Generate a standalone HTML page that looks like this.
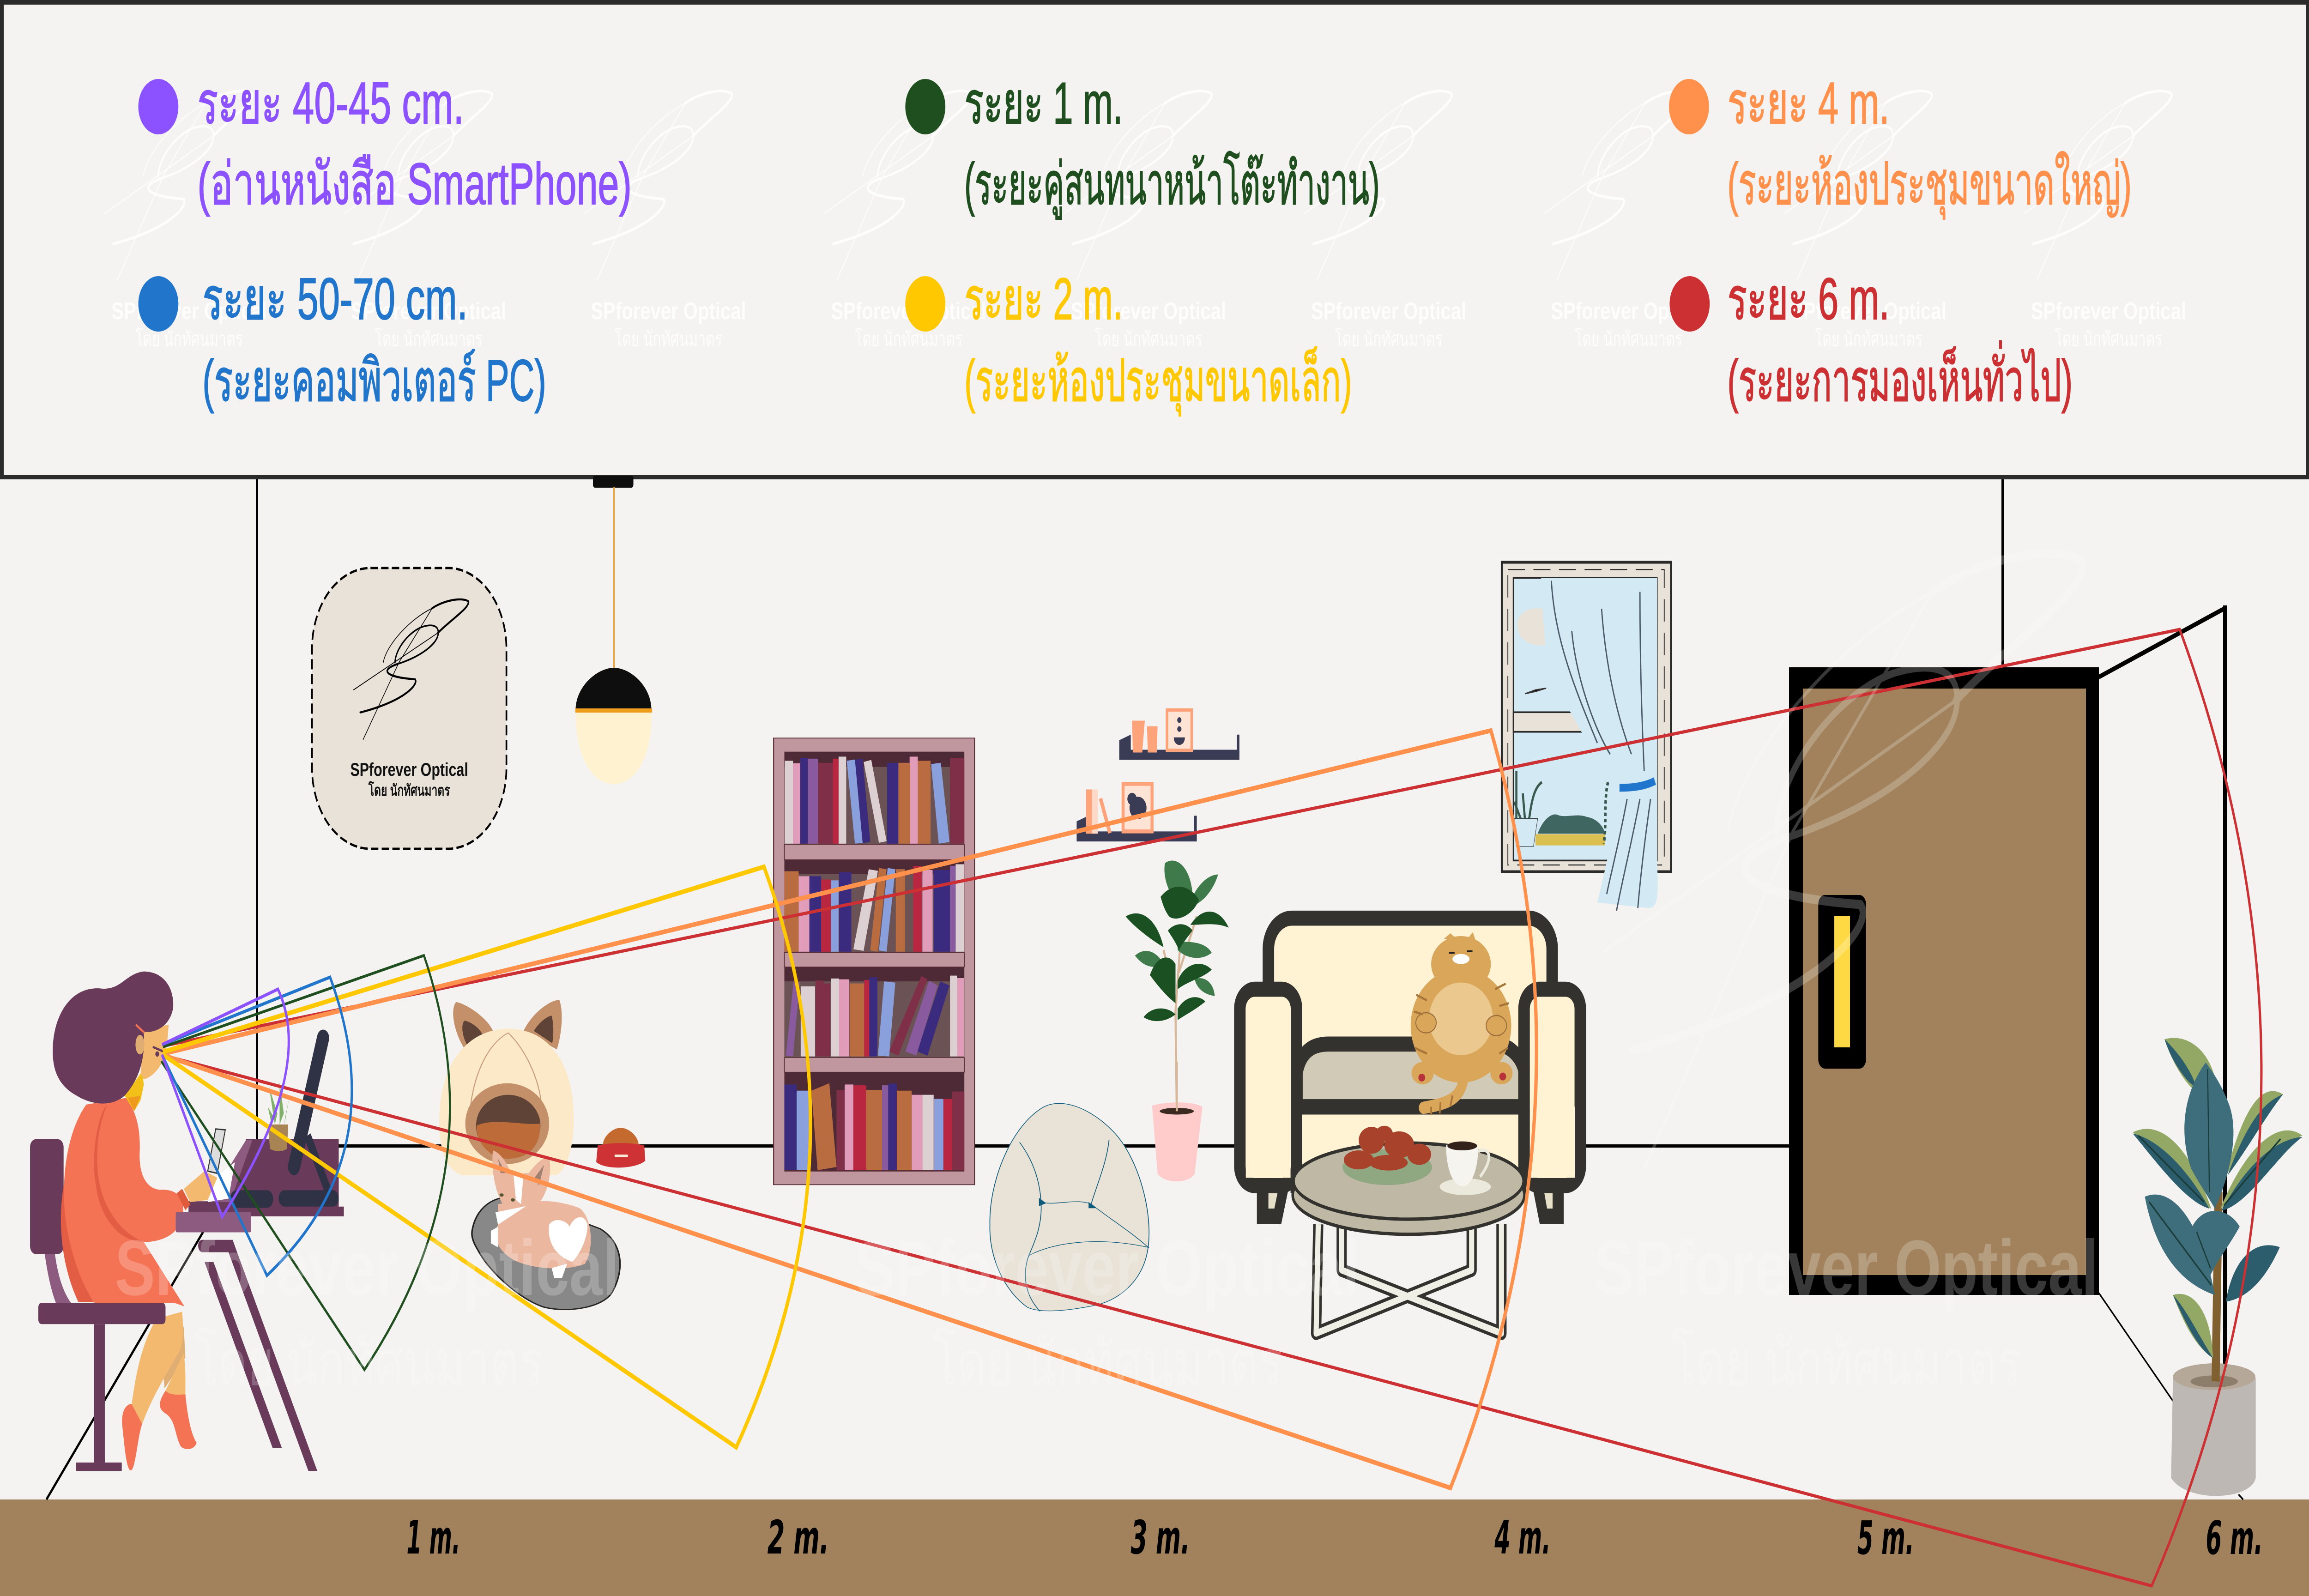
<!DOCTYPE html>
<html lang="th"><head><meta charset="utf-8"><title>ระยะการมองเห็น</title>
<style>html,body{margin:0;padding:0;background:#f4f3f1;width:100%;height:100%;overflow:hidden}
.s{position:absolute;will-change:transform;z-index:1}
svg{position:absolute;left:0;top:0;display:block;width:100vw;height:100vh;z-index:10;will-change:transform}
.l{font-family:"Liberation Sans","DejaVu Sans","Noto Sans CJK SC",sans-serif;font-size:127px}
.w{font-family:"Liberation Sans","DejaVu Sans","Noto Sans CJK SC",sans-serif;font-weight:bold}
.f{font-family:"DejaVu Sans","Liberation Sans",sans-serif;font-weight:bold;font-style:italic;font-size:100px;fill:#000}
</style></head><body>
<!-- solid colour layers -->
<div class="s" style="left:0;top:93.953%;width:100%;height:6.047%;background:#a1825c"></div>
<div class="s" style="left:11.089%;top:29.8%;width:.09%;height:42%;background:#000"></div>
<div class="s" style="left:86.67%;top:29.8%;width:.09%;height:12.2%;background:#000"></div>
<div class="s" style="left:11.05%;top:71.7%;width:66.5%;height:.2%;background:#000"></div>
<div class="s" style="left:96.28%;top:37.94%;width:.18%;height:48.9%;background:#000"></div>
<div class="s" style="left:77.474%;top:41.811%;width:13.426%;height:39.323%;background:#000"></div>
<div class="s" style="left:78.082%;top:43.142%;width:12.254%;height:36.748%;background:#a1825c"></div>
<div class="s" style="left:0;top:0;width:100%;height:.3%;background:#2b2b2b"></div>
<div class="s" style="left:0;top:29.75%;width:100%;height:.3%;background:#2b2b2b"></div>
<div class="s" style="left:0;top:0;width:.15%;height:30%;background:#2b2b2b"></div>
<div class="s" style="left:99.85%;top:0;width:.15%;height:30%;background:#2b2b2b"></div>
<svg xmlns="http://www.w3.org/2000/svg" viewBox="0 0 6912 3456" preserveAspectRatio="none">
<defs>
<g id="sig" fill="none" stroke-linecap="round">
<path stroke-width="2.5" d="M381,607L518,382L646,223M344,462L668,295M458,382C470,330 560,255 646,223"/>
<path stroke-width="6" d="M646,223C690,200 760,190 785,203C790,222 720,255 668,295"/>
<path stroke-width="5" d="M503,382C505,340 560,290 610,277C650,268 675,275 668,302C660,330 600,365 514,386"/>
<path stroke-width="6" d="M514,386C440,405 470,425 580,431C595,445 540,495 370,528"/>
</g>
</defs>
<g stroke="#000" fill="none">
<path stroke-width="6" d="M768,2470L139,3247"/>
<path stroke-width="10" d="M6283,1466L6658,1318"/>
<path stroke-width="4" d="M6283,2800L6505,3034M6701,3236L6715,3247"/>
</g>
<!-- floor labels -->
<text class="f" x="1217" y="3364" textLength="161" lengthAdjust="spacingAndGlyphs">1 m.</text>
<text class="f" x="2297" y="3364" textLength="185" lengthAdjust="spacingAndGlyphs">2 m.</text>
<text class="f" x="3385" y="3364" textLength="177" lengthAdjust="spacingAndGlyphs">3 m.</text>
<text class="f" x="4474" y="3364" textLength="168" lengthAdjust="spacingAndGlyphs">4 m.</text>
<text class="f" x="5560" y="3365" textLength="170" lengthAdjust="spacingAndGlyphs">5 m.</text>
<text class="f" x="6603" y="3365" textLength="171" lengthAdjust="spacingAndGlyphs">6 m.</text>
<!-- door handle -->
<rect x="5443" y="1938" width="143" height="376" rx="20" fill="#000"/>
<rect x="5491" y="1984" width="47" height="284" fill="#ffd944"/>
<!-- logo badge -->
<rect x="934" y="1230" width="582" height="608" rx="175" fill="#e8e2d8" stroke="#000" stroke-width="5" stroke-dasharray="22 10"/>
<use href="#sig" transform="translate(790,1152) scale(.78,.74)" stroke="#000"/>
<text class="w" x="1225" y="1680" text-anchor="middle" font-size="40" fill="#111" textLength="353" lengthAdjust="spacingAndGlyphs">SPforever Optical</text>
<text class="w" x="1225" y="1723" text-anchor="middle" font-size="34" fill="#111" font-weight="normal" textLength="244" lengthAdjust="spacingAndGlyphs">โดย นักทัศนมาตร</text>
<!-- lamp -->
<rect x="1775" y="1030" width="121" height="26" rx="6" fill="#0e0e0e"/>
<rect x="1836" y="1055" width="4" height="395" fill="#f09a1e"/>
<path d="M1723,1538C1723,1485 1790,1446 1838,1446C1886,1446 1950,1485 1950,1538Z" fill="#0e0e0e"/>
<path d="M1724,1540H1950C1955,1640 1900,1698 1838,1698C1775,1698 1720,1640 1724,1540Z" fill="#fff2d0"/>
<rect x="1722" y="1534" width="230" height="9" fill="#f09a1e"/>
<!-- z3 group: bookcase, cat house, dog, bowl, beanbag -->
<g transform="translate(1200,1500) scale(1.5306,.893)">
<rect x="729" y="110" width="393" height="1083" fill="#c1979f" stroke="#5a2d35" stroke-width="2"/>
<g fill="#4d2a36"><rect x="750" y="143" width="352" height="225"/><rect x="750" y="405" width="352" height="225"/><rect x="750" y="665" width="352" height="220"/><rect x="750" y="920" width="352" height="240"/></g>
<g fill="#6b5355"><rect x="750" y="180" width="352" height="188"/><rect x="750" y="440" width="352" height="190"/><rect x="750" y="700" width="352" height="185"/></g>
<g fill="#ddd0d3"><rect x="751" y="165" width="16" height="201"/><rect x="856" y="155" width="15" height="211"/><path d="M905,168L920,163L950,360L935,364Z"/><rect x="1085" y="416" width="16" height="212"/><path d="M915,428L933,432L905,626L885,622Z"/><rect x="782" y="712" width="28" height="170"/><rect x="841" y="693" width="16" height="189"/><rect x="1074" y="686" width="14" height="196"/><rect x="1020" y="975" width="22" height="183"/></g>
<g fill="#e09cb9"><rect x="767" y="171" width="14" height="195"/><rect x="995" y="155" width="16" height="211"/><rect x="778" y="445" width="21" height="183"/><rect x="1020" y="430" width="20" height="198"/><rect x="857" y="695" width="20" height="187"/><rect x="1088" y="692" width="13" height="190"/><rect x="868" y="950" width="17" height="208"/><rect x="999" y="975" width="21" height="183"/></g>
<g fill="#3a2b7f"><rect x="781" y="158" width="15" height="208"/><path d="M888,162L903,160L918,362L903,365Z"/><rect x="951" y="170" width="22" height="196"/><rect x="799" y="445" width="23" height="183"/><rect x="857" y="435" width="24" height="193"/><rect x="1042" y="430" width="32" height="198"/><rect x="916" y="690" width="16" height="192"/><path d="M1055,700L1073,710L1030,880L1010,870Z"/><rect x="750" y="950" width="24" height="208"/><rect x="953" y="948" width="17" height="210"/></g>
<g fill="#8a5a9f"><rect x="796" y="160" width="20" height="206"/><rect x="1074" y="420" width="11" height="208"/><path d="M768,700L780,703L767,882L753,880Z"/><path d="M1033,698L1050,710L1008,880L987,870Z"/><rect x="941" y="952" width="12" height="206"/></g>
<g fill="#7f3048"><rect x="816" y="170" width="29" height="196"/><rect x="1074" y="158" width="28" height="208"/><rect x="811" y="698" width="16" height="184"/><rect x="827" y="705" width="13" height="177"/><path d="M1018,687L1030,695L973,880L955,870Z"/><rect x="852" y="963" width="16" height="195"/><rect x="1078" y="967" width="24" height="191"/></g>
<g fill="#b9263f"><rect x="845" y="160" width="11" height="206"/><rect x="822" y="453" width="19" height="175"/><rect x="1002" y="420" width="17" height="208"/><rect x="906" y="697" width="10" height="185"/><rect x="885" y="952" width="25" height="206"/><rect x="1061" y="985" width="17" height="173"/></g>
<g fill="#8aa0dc"><path d="M872,165L888,162L903,364L888,366Z"/><path d="M1037,173L1056,170L1073,362L1052,366Z"/><rect x="841" y="455" width="15" height="173"/><path d="M952,425L967,428L950,628L935,625Z"/><path d="M945,700L967,703L955,882L933,880Z"/><rect x="774" y="965" width="24" height="193"/><rect x="1043" y="985" width="18" height="173"/></g>
<g fill="#b86c3f"><rect x="973" y="170" width="23" height="196"/><rect x="1011" y="165" width="25" height="201"/><rect x="750" y="433" width="28" height="195"/><path d="M935,425L950,428L933,628L918,625Z"/><rect x="968" y="428" width="18" height="200"/><rect x="878" y="705" width="28" height="177"/><path d="M803,965L838,947L852,1150L815,1158Z"/><rect x="910" y="963" width="31" height="195"/><rect x="970" y="965" width="29" height="193"/></g>
<g fill="#c1979f" stroke="#5a2d35" stroke-width="1.5"><rect x="750" y="368" width="352" height="37"/><rect x="750" y="630" width="352" height="35"/><rect x="750" y="885" width="352" height="35"/></g>
<rect x="750" y="1158" width="352" height="3" fill="#5a2d35"/>
<!-- cat house -->
<path d="M128,870C105,830 95,770 108,750C130,755 170,790 180,820Z" fill="#c4906a"/><path d="M130,855C118,830 118,800 125,795C140,800 155,815 160,830Z" fill="#5f4337"/>
<path d="M240,820C255,780 290,745 310,745C320,780 312,840 305,865Z" fill="#c4906a"/><path d="M260,820C270,800 285,785 295,783C300,810 298,840 296,850Z" fill="#5f4337"/>
<path d="M75,1040C75,900 130,815 210,815C290,815 340,900 338,1040C338,1110 320,1170 300,1170L120,1170C90,1160 75,1110 75,1040Z" fill="#fbe9c8"/>
<path d="M135,1020C140,930 170,850 210,825C240,860 270,930 275,1000" fill="none" stroke="#c99b7b" stroke-width="2"/>
<ellipse cx="208" cy="1045" rx="82" ry="98" fill="#c4906a"/><ellipse cx="210" cy="1050" rx="63" ry="75" fill="#5f4337"/>
<path d="M148,1050C180,1030 240,1050 272,1045C275,1110 240,1130 210,1130C180,1130 148,1100 148,1050Z" fill="#bd6b38"/>
<!-- rug + dog -->
<path d="M140,1300C150,1240 190,1215 230,1225L390,1300C430,1330 440,1390 415,1450C400,1490 330,1505 280,1490C230,1470 170,1400 150,1350C140,1330 137,1315 140,1300Z" fill="#888" stroke="#222" stroke-width="3"/>
<path d="M190,1240C240,1230 300,1225 350,1250C375,1275 378,1350 360,1385C330,1400 280,1400 240,1385C200,1370 175,1330 190,1290Z" fill="#ebb89f"/>
<path d="M180,1110C195,1115 210,1145 215,1165L250,1165C265,1140 280,1125 290,1125C295,1160 290,1200 275,1230C260,1245 230,1250 205,1250C190,1230 175,1170 180,1110Z" fill="#ebb89f"/>
<path d="M185,1260L245,1245L190,1290ZM220,1165L240,1165L235,1240L225,1230Z" fill="#fff"/>
<path d="M290,1290C300,1270 325,1280 330,1295C340,1265 360,1265 365,1290C365,1330 345,1370 335,1380C310,1370 285,1340 290,1290Z" fill="#fff"/>
<path d="M176,1305L190,1295V1345L176,1335ZM295,1395L325,1385L315,1420L300,1420Z" fill="#fff"/>
<path d="M190,1130L205,1165L195,1165ZM280,1145L270,1195L262,1175Z" fill="#a08070"/>
<circle cx="197" cy="1218" r="4" fill="#553"/><circle cx="219" cy="1230" r="4" fill="#553"/>
<!-- bowl -->
<path d="M395,1098C395,1075 415,1055 430,1055C445,1055 465,1075 465,1098Z" fill="#c46a2f"/>
<path d="M385,1098C410,1090 450,1090 476,1098L478,1135C460,1155 400,1158 382,1138Z" fill="#cf3235"/>
<rect x="418" y="1120" width="26" height="6" fill="#fbe9d8"/>
<!-- beanbag -->
<path d="M1250,1010C1290,975 1350,1010 1390,1060C1440,1120 1470,1250 1462,1340C1455,1420 1410,1470 1360,1485C1300,1500 1250,1505 1225,1490C1180,1450 1150,1370 1152,1290C1150,1190 1190,1060 1250,1010Z" fill="#e8e2d7" stroke="#0e5a7a" stroke-width="1.5"/>
<path d="M1210,1090C1240,1140 1250,1190 1252,1235C1280,1245 1320,1225 1350,1240C1365,1180 1380,1140 1385,1085M1252,1235C1255,1290 1240,1330 1228,1365C1280,1330 1370,1320 1462,1345C1420,1300 1380,1270 1350,1240M1228,1365C1215,1410 1220,1460 1250,1500" fill="none" stroke="#0e5a7a" stroke-width="1.5"/>
<path d="M1248,1225L1262,1238L1248,1245ZM1345,1235L1360,1250L1345,1250Z" fill="#0e5a7a"/>
</g>
<!-- z4 group: shelves, plant, window, sofa, cat, table -->
<g transform="translate(3200,1100) scale(1.2755,1.2117)">
<path d="M118,415L145,405V432H394V405H400V450H118ZM18,560L40,552V578H293V550H300V596H18Z" fill="#3a3b55"/>
<path d="M148,380H178L172,437H150ZM183,390H208L206,437H185ZM40,503H54V582H40ZM70,520L78,518L100,580L92,582Z" fill="#ffa37a"/>
<rect x="54" y="503" width="14" height="79" fill="#ffd9c8"/>
<rect x="230" y="361" width="58" height="72" fill="#ffe3d4" stroke="#ffa37a" stroke-width="6"/>
<rect x="127" y="493" width="68" height="85" fill="#ffe3d4" stroke="#ffa37a" stroke-width="7"/>
<g fill="#3a3b55"><circle cx="259" cy="379" r="5"/><circle cx="259" cy="395" r="5"/><path d="M246,410H272C272,428 246,428 246,410Z"/><circle cx="148" cy="520" r="11"/><circle cx="162" cy="536" r="20"/></g>
<!-- fig tree -->
<path d="M253,1078L250,900L262,770M250,880L222,790M258,830L300,730" fill="none" stroke="#d8b89b" stroke-width="5"/>
<g fill="#3f7a4a"><path d="M225,635C250,620 285,640 290,690L240,690C225,670 222,650 225,635Z"/><path d="M290,695C305,670 330,655 350,655C340,680 320,700 295,710Z"/><path d="M155,800C175,785 205,790 222,815C200,825 175,820 155,800Z"/><path d="M255,775C285,775 320,775 335,795C310,810 275,805 255,790Z"/><path d="M295,842C320,835 340,850 342,872C320,870 300,860 295,842Z"/></g>
<g fill="#1a5022"><path d="M215,695C240,670 280,670 305,700C290,730 250,740 235,730C225,720 220,708 215,695Z"/><path d="M133,730C165,715 205,730 222,785C190,770 155,750 133,730Z"/><path d="M285,745C310,715 350,710 375,750C345,740 315,745 285,745Z"/><path d="M232,755C250,740 275,740 290,755C275,770 265,780 258,790C250,775 240,765 232,755Z"/><path d="M190,835C205,800 235,795 250,815V885C225,870 205,850 190,835Z"/><path d="M255,845C270,815 310,805 335,825C315,840 280,845 255,860Z"/><path d="M175,910C195,890 230,890 250,905C225,920 195,920 175,910Z"/><path d="M255,895C275,870 305,870 320,882C300,895 275,905 255,915Z"/></g>
<path d="M195,1068C230,1060 290,1060 313,1070L295,1190C280,1208 225,1208 208,1190Z" fill="#ffcbcb"/>
<ellipse cx="253" cy="1078" rx="40" ry="6" fill="#3a2a20"/>
<path d="M253,1078V990" stroke="#d8b89b" stroke-width="5"/>
<!-- window -->
<rect x="1016" y="97" width="397" height="553" fill="#e8e2d8" stroke="#2a2a2a" stroke-width="5"/>
<rect x="1030" y="110" width="367" height="528" fill="none" stroke="#2a2a2a" stroke-width="2" stroke-dasharray="40 20"/>
<rect x="1043" y="125" width="337" height="505" fill="#d3e9f3" stroke="#2a2a2a" stroke-width="3"/>
<rect x="1043" y="365" width="337" height="35" fill="#e8e2d8" stroke="#2a2a2a" stroke-width="3"/>
<path d="M1112,180C1070,175 1050,195 1052,210C1055,240 1090,248 1118,245Z" fill="#e8e2d8"/>
<path d="M1070,332L1095,328L1120,322L1095,325Z" stroke="#333" stroke-width="2"/>
<path d="M1045,555H1100L1090,605H1050Z" fill="#d3e9f3" stroke="#333" stroke-width="1"/>
<path d="M1050,470V555M1065,510L1070,555M1110,490C1090,500 1085,530 1080,555M1045,525L1060,555" stroke="#3a5a50" stroke-width="5" fill="none"/>
<path d="M1100,582C1110,560 1130,545 1145,548C1165,555 1190,545 1215,552C1240,555 1255,570 1258,582Z" fill="#3f6660"/>
<rect x="1095" y="583" width="163" height="20" fill="#dbbf50"/>
<path d="M1108,125H1380V630C1385,700 1380,715 1360,715L1240,705C1260,640 1285,560 1295,510C1250,470 1190,380 1150,330C1120,270 1110,200 1108,125Z" fill="#d3e9f3"/>
<path d="M1132,130C1140,230 1180,310 1240,420M1180,220C1190,300 1230,390 1270,440M1250,180C1260,290 1290,380 1320,440M1340,150C1340,280 1345,390 1350,470M1310,520C1290,600 1270,660 1262,690M1340,520C1320,600 1300,660 1285,720M1365,520C1350,600 1340,670 1335,715" fill="none" stroke="#4a5a6a" stroke-width="3"/>
<path d="M1292,500C1320,500 1350,498 1375,488" stroke="#1f76cc" stroke-width="14" fill="none"/>
<path d="M1265,490C1255,520 1262,570 1255,600" stroke="#3a5a50" stroke-width="6" stroke-dasharray="6 5" fill="none"/>
<!-- sofa -->
<path d="M441,1210H517L498,1280H441ZM1087,1210H1161V1280H1105Z" fill="#33322e"/>
<path d="M468,1222H490L482,1252H468ZM1115,1222H1135V1252H1122Z" fill="#e6e0c8"/>
<rect x="468" y="733" width="666" height="300" rx="55" fill="#fff3d3" stroke="#33322e" stroke-width="27"/>
<rect x="520" y="1040" width="560" height="170" fill="#fff3d3"/>
<path d="M535,1070V1010C545,965 580,958 610,958H1000C1040,958 1068,990 1068,1010V1070Z" fill="#d0cab7" stroke="#33322e" stroke-width="27" stroke-linejoin="round"/>
<rect x="401" y="860" width="133" height="351" rx="35" fill="#fff3d3" stroke="#33322e" stroke-width="27"/>
<rect x="1068" y="860" width="132" height="351" rx="35" fill="#fff3d3" stroke="#33322e" stroke-width="27"/>
<rect x="520" y="1197" width="560" height="27" fill="#33322e"/>
<rect x="534" y="1070" width="534" height="14" fill="#33322e"/>
<rect x="415" y="1070" width="105" height="127" fill="#fff3d3"/><rect x="1082" y="1070" width="105" height="127" fill="#fff3d3"/>
<!-- cat -->
<path d="M925,1025C915,1060 880,1065 832,1072" fill="none" stroke="#d9a65a" stroke-width="22" stroke-linecap="round"/>
<path d="M880,770L895,760L910,770ZM935,770L948,758L955,775Z" fill="#d9a65a"/>
<ellipse cx="920" cy="925" rx="118" ry="102" fill="#d9a65a"/><ellipse cx="920" cy="815" rx="70" ry="50" fill="#d9a65a"/>
<ellipse cx="920" cy="913" rx="75" ry="65" fill="#ebc88e"/>
<ellipse cx="830" cy="1010" rx="26" ry="20" fill="#d9a65a"/><ellipse cx="1015" cy="1010" rx="26" ry="20" fill="#d9a65a"/>
<ellipse cx="838" cy="920" rx="24" ry="18" fill="#d9a65a" stroke="#9c6e3a" stroke-width="2"/><ellipse cx="1003" cy="925" rx="24" ry="18" fill="#d9a65a" stroke="#9c6e3a" stroke-width="2"/>
<ellipse cx="828" cy="1018" rx="8" ry="7" fill="#b8323a"/><ellipse cx="1018" cy="1016" rx="8" ry="7" fill="#b8323a"/>
<ellipse cx="920" cy="806" rx="20" ry="9" fill="#fff"/>
<path d="M892,795H905M934,792H947" stroke="#222" stroke-width="3"/>
<path d="M815,870L840,880M810,900L830,905M812,965L840,975M1000,860L1025,850M1010,890L1032,885M1010,975L1030,965M895,1070L900,1050M870,1082L872,1062M850,1085V1070" stroke="#a77638" stroke-width="4"/>
<!-- table -->
<path d="M585,1280L580,1475L945,1362V1285M1015,1280V1475L640,1362V1285" fill="none" stroke="#33322e" stroke-width="24" stroke-linejoin="round"/>
<path d="M585,1280L580,1475L945,1362V1285M1015,1280V1475L640,1362V1285" fill="none" stroke="#f0efe5" stroke-width="12" stroke-linejoin="round"/>
<ellipse cx="797" cy="1228" rx="272" ry="70" fill="#bfb8a4" stroke="#33322e" stroke-width="6"/>
<ellipse cx="797" cy="1203" rx="270" ry="68" fill="#bfb8a4" stroke="#33322e" stroke-width="6"/>
<ellipse cx="747" cy="1178" rx="105" ry="32" fill="#8fa882"/>
<g fill="#a9422b"><ellipse cx="710" cy="1130" rx="30" ry="24"/><ellipse cx="775" cy="1138" rx="35" ry="24"/><ellipse cx="740" cy="1118" rx="20" ry="14"/><ellipse cx="680" cy="1165" rx="35" ry="17"/><ellipse cx="750" cy="1170" rx="45" ry="14"/><ellipse cx="822" cy="1155" rx="28" ry="19"/></g>
<ellipse cx="930" cy="1213" rx="60" ry="15" fill="#ebe8dc"/>
<path d="M885,1138H960C962,1180 945,1212 925,1212C900,1212 885,1180 885,1138Z" fill="#f5f4ef"/>
<path d="M960,1150C985,1140 1000,1160 965,1195" fill="none" stroke="#eceadd" stroke-width="6"/>
<ellipse cx="923" cy="1140" rx="35" ry="8" fill="#33221a"/>
</g>
<!-- z5 rubber plant -->
<g transform="translate(5200,1200) scale(1.0918,1.4388)">
<path d="M1195,1240C1250,1210 1370,1210 1422,1240L1422,1390C1410,1425 1230,1428 1190,1390Z" fill="#bdb8b4"/>
<ellipse cx="1308" cy="1238" rx="113" ry="20" fill="#b5a898"/><ellipse cx="1308" cy="1245" rx="65" ry="9" fill="#8d7d6b"/>
<path d="M1312,1245L1320,960" stroke="#80602f" stroke-width="22"/>
<path d="M1172,730C1240,720 1300,750 1315,800L1250,805C1220,790 1190,760 1172,730Z" fill="#94a866"/>
<path d="M1172,730C1200,745 1240,770 1262,805L1240,795C1215,780 1190,760 1172,730Z" fill="#2c5d6c"/>
<path d="M1085,870C1160,850 1240,890 1300,985C1240,970 1150,900 1085,870Z" fill="#94a866"/>
<path d="M1085,872C1150,880 1230,920 1295,985C1230,975 1150,915 1085,872Z" fill="#2c5d6c"/>
<path d="M1497,813C1430,790 1380,850 1340,935C1400,890 1440,840 1497,813Z" fill="#94a866"/>
<path d="M1497,813C1440,825 1395,860 1345,935C1400,895 1450,845 1497,813Z" fill="#2c5d6c"/>
<path d="M1550,875C1490,850 1400,885 1325,985C1400,960 1480,890 1550,875Z" fill="#94a866"/>
<path d="M1550,877C1480,880 1400,915 1328,988C1400,980 1480,905 1550,877Z" fill="#2c5d6c"/>
<path d="M1285,765C1225,810 1210,870 1245,925C1270,950 1295,970 1310,985C1355,930 1375,870 1350,830C1330,800 1305,780 1285,765Z" fill="#3e6d7c"/>
<path d="M1118,967C1190,950 1270,1000 1310,1115C1230,1100 1150,1060 1118,967Z" fill="#3e6d7c"/>
<path d="M1488,1043C1420,1030 1360,1060 1340,1125C1400,1120 1450,1090 1488,1043Z" fill="#2c5d6c"/>
<path d="M1245,1015C1280,975 1350,985 1378,1012C1350,1040 1320,1060 1298,1085C1275,1060 1245,1040 1245,1015Z" fill="#3e6d7c"/>
<path d="M1195,1115C1250,1105 1300,1140 1305,1210C1250,1190 1220,1150 1195,1115Z" fill="#94a866"/>
<path d="M1195,1115C1225,1150 1260,1195 1305,1210C1260,1170 1230,1135 1195,1115Z" fill="#2c5d6c"/>
<path d="M1290,775L1295,960M1130,975L1300,1100M1260,1020L1298,1075M1100,875L1280,975M1490,880L1335,980" fill="none" stroke="#1a3d3a" stroke-width="3"/>
</g>
<!-- z2 person & desk -->
<g transform="translate(0,1950) scale(.9566,.9605)">
<path d="M140,797C150,850 165,890 175,907H222C195,880 180,840 172,797Z" fill="#8d5a80"/>
<rect x="94" y="538" width="105" height="259" rx="18" fill="#693a5a"/>
<path d="M200,640C180,720 190,820 245,905H295L230,800Z" fill="#e35d45"/>
<path d="M270,460C230,500 200,570 200,660C200,760 250,860 295,907H545L577,915L450,770C500,770 570,755 573,700C575,670 555,650 500,652C460,650 435,620 437,570C440,520 430,480 395,445Z" fill="#f57355"/>
<path d="M335,460C300,490 285,590 300,640C310,710 370,770 450,770C380,750 310,690 305,600C300,530 320,490 335,460Z" fill="#e35d45"/>
<!-- legs -->
<path d="M510,1060L575,960L580,1030L515,1100Z" fill="#e0ad72"/>
<path d="M518,1105L575,1020C582,1060 580,1090 580,1115C555,1118 530,1115 518,1105Z" fill="#f3ba6f"/>
<path d="M480,955C440,1010 425,1070 412,1135L445,1180C470,1130 510,1080 550,1030C570,1010 577,990 570,927L480,945Z" fill="#f3ba6f"/>
<path d="M412,1135L445,1180C430,1210 425,1280 410,1285C395,1285 390,1230 382,1180C380,1150 395,1135 412,1135Z" fill="#f57355"/>
<path d="M518,1105C530,1115 560,1115 580,1113C585,1150 595,1200 615,1222C610,1240 575,1240 565,1230C545,1200 550,1170 515,1155C495,1145 495,1130 518,1105Z" fill="#f57355"/>
<rect x="120" y="907" width="398" height="48" rx="10" fill="#693a5a"/>
<rect x="294" y="955" width="34" height="312" fill="#693a5a"/>
<rect x="238" y="1267" width="143" height="19" fill="#693a5a"/>
<!-- desk -->
<path d="M770,538H1060V690H1076V712H590V678H712Z" fill="#693a5a"/>
<path d="M770,540H790L720,680H700L650,678ZM770,538L712,672" fill="#8d5a80"/>
<path d="M680,620L735,590L715,672L650,680Z" fill="#fff"/>
<rect x="550" y="702" width="236" height="46" rx="4" fill="#8d5a80"/>
<path d="M620,778C620,770 625,765 635,765H728L742,793H635C625,793 620,785 620,778Z" fill="#693a5a"/>
<path d="M715,793H742L993,1286H965ZM640,815H668L882,1234H853Z" fill="#693a5a"/>
<path d="M1011,310L920,600" stroke="#2f3144" stroke-width="38" stroke-linecap="round"/>
<path d="M962,530L1040,680" stroke="#2f3144" stroke-width="22"/>
<rect x="720" y="653" width="135" height="40" rx="20" fill="#2f3144"/><rect x="872" y="653" width="188" height="37" rx="18" fill="#2f3144"/>
<!-- plant on desk -->
<g fill="#7fb069"><path d="M860,505L842,420L868,480ZM875,505L875,410L888,480ZM890,505L905,445L892,490ZM850,505L838,465L858,490Z"/></g>
<path d="M838,505H902L898,560C880,568 860,566 845,560Z" fill="#a88454"/>
<!-- hand, phone -->
<path d="M650,610L675,515L705,517L680,615Z" fill="#ddd" stroke="#333" stroke-width="3"/>
<path d="M575,650L640,610L680,625L650,675L595,680Z" fill="#f3ba6f"/>
<path d="M553,660L570,650L596,685L580,698Z" fill="#e05a3c"/>
<!-- head -->
<path d="M390,440L445,385L450,415L440,450L420,475Z" fill="#f2c018"/>
<path d="M400,445L440,440L420,475Z" fill="#ee9a1e"/>
<path d="M450,290L528,280C525,300 525,330 510,360C495,385 470,400 450,403L440,390Z" fill="#f3ba6f"/>
<path d="M165,340C165,260 220,195 310,198C380,205 390,165 450,160C510,160 545,195 542,240C535,280 490,300 450,296C455,350 440,400 390,440C350,465 290,462 240,440C190,420 165,390 165,340Z" fill="#693a5a"/>
<ellipse cx="438" cy="325" rx="14" ry="22" fill="#e0ad72"/>
<path d="M425,280L452,298" stroke="#f57355" stroke-width="5"/>
<path d="M478,330L510,340" stroke="#693a5a" stroke-width="5"/>
<circle cx="492" cy="346" r="6" fill="#693a5a"/>
</g>
<!-- cones -->
<g fill="none" stroke-linejoin="miter" stroke-miterlimit="6">
<path stroke="#cc3033" stroke-width="7" d="M488,2265L6525,1363Q7053,2401 6441,3434L493,2286"/>
<path stroke="#ff914d" stroke-width="10" d="M493,2281L4463,1582Q4787,2402 4342,3222L493,2286"/>
<path stroke="#ffc800" stroke-width="10" d="M488,2278L2287,1877Q2602,2504 2204,3134L488,2284"/>
<path stroke="#1f4e1f" stroke-width="6" d="M488,2267L1269,2069Q1488,2534 1091,2966L483,2298"/>
<path stroke="#2176cc" stroke-width="7" d="M485,2262L988,2116Q1182,2499 799,2762L485,2284"/>
<path stroke="#8c52ff" stroke-width="7" d="M485,2262L832,2142Q945,2317 665,2635L485,2284"/>
</g>
<!-- legend watermarks -->
<g stroke="#fff" opacity=".8">
<use href="#sig" transform="translate(-30,0)"/><use href="#sig" transform="translate(688,0)"/><use href="#sig" transform="translate(1406,0)"/><use href="#sig" transform="translate(2124,0)"/><use href="#sig" transform="translate(2842,0)"/><use href="#sig" transform="translate(3561,0)"/><use href="#sig" transform="translate(4279,0)"/><use href="#sig" transform="translate(4998,0)"/><use href="#sig" transform="translate(5716,0)"/>
</g>
<g class="w" fill="#fff" opacity=".8" text-anchor="middle">
<g font-size="52">
<text x="566" y="691" textLength="465" lengthAdjust="spacingAndGlyphs">SPforever Optical</text><text x="1283" y="691" textLength="465" lengthAdjust="spacingAndGlyphs">SPforever Optical</text><text x="2001" y="691" textLength="465" lengthAdjust="spacingAndGlyphs">SPforever Optical</text><text x="2720" y="691" textLength="465" lengthAdjust="spacingAndGlyphs">SPforever Optical</text><text x="3438" y="691" textLength="465" lengthAdjust="spacingAndGlyphs">SPforever Optical</text><text x="4157" y="691" textLength="465" lengthAdjust="spacingAndGlyphs">SPforever Optical</text><text x="4875" y="691" textLength="465" lengthAdjust="spacingAndGlyphs">SPforever Optical</text><text x="5594" y="691" textLength="465" lengthAdjust="spacingAndGlyphs">SPforever Optical</text><text x="6312" y="691" textLength="465" lengthAdjust="spacingAndGlyphs">SPforever Optical</text>
</g>
<g font-size="44" font-weight="normal">
<text x="566" y="749" textLength="322" lengthAdjust="spacingAndGlyphs">โดย นักทัศนมาตร</text><text x="1283" y="749" textLength="322" lengthAdjust="spacingAndGlyphs">โดย นักทัศนมาตร</text><text x="2001" y="749" textLength="322" lengthAdjust="spacingAndGlyphs">โดย นักทัศนมาตร</text><text x="2720" y="749" textLength="322" lengthAdjust="spacingAndGlyphs">โดย นักทัศนมาตร</text><text x="3438" y="749" textLength="322" lengthAdjust="spacingAndGlyphs">โดย นักทัศนมาตร</text><text x="4157" y="749" textLength="322" lengthAdjust="spacingAndGlyphs">โดย นักทัศนมาตร</text><text x="4875" y="749" textLength="322" lengthAdjust="spacingAndGlyphs">โดย นักทัศนมาตร</text><text x="5594" y="749" textLength="322" lengthAdjust="spacingAndGlyphs">โดย นักทัศนมาตร</text><text x="6312" y="749" textLength="322" lengthAdjust="spacingAndGlyphs">โดย นักทัศนมาตร</text>
</g>
</g>
<circle cx="474" cy="231" r="60" fill="#8c52ff"/><circle cx="474" cy="658" r="60" fill="#2176cc"/><circle cx="2770" cy="231" r="60" fill="#1f4e1f"/><circle cx="2770" cy="658" r="60" fill="#ffc800"/><circle cx="5056" cy="231" r="60" fill="#ff914d"/><circle cx="5058" cy="658" r="60" fill="#cc3033"/>
<g class="l" stroke-width="2">
<text x="591" y="267" fill="#8c52ff" stroke="#8c52ff" textLength="798" lengthAdjust="spacingAndGlyphs">ระยะ 40-45 cm.</text>
<text x="591" y="442" fill="#8c52ff" stroke="#8c52ff" textLength="1300" lengthAdjust="spacingAndGlyphs">(อ่านหนังสือ SmartPhone)</text>
<text x="606" y="691" fill="#2176cc" stroke="#2176cc" textLength="794" lengthAdjust="spacingAndGlyphs">ระยะ 50-70 cm.</text>
<text x="606" y="868" fill="#2176cc" stroke="#2176cc" textLength="1029" lengthAdjust="spacingAndGlyphs">(ระยะคอมพิวเตอร์ PC)</text>
<text x="2887" y="267" fill="#1f4e1f" stroke="#1f4e1f" textLength="474" lengthAdjust="spacingAndGlyphs">ระยะ 1 m.</text>
<text x="2887" y="442" fill="#1f4e1f" stroke="#1f4e1f" textLength="1243" lengthAdjust="spacingAndGlyphs">(ระยะคู่สนทนาหน้าโต๊ะทำงาน)</text>
<text x="2887" y="691" fill="#ffc800" stroke="#ffc800" textLength="474" lengthAdjust="spacingAndGlyphs">ระยะ 2 m.</text>
<text x="2887" y="868" fill="#ffc800" stroke="#ffc800" textLength="1160" lengthAdjust="spacingAndGlyphs">(ระยะห้องประชุมขนาดเล็ก)</text>
<text x="5171" y="267" fill="#ff914d" stroke="#ff914d" textLength="485" lengthAdjust="spacingAndGlyphs">ระยะ 4 m.</text>
<text x="5171" y="442" fill="#ff914d" stroke="#ff914d" textLength="1210" lengthAdjust="spacingAndGlyphs">(ระยะห้องประชุมขนาดใหญ่)</text>
<text x="5171" y="691" fill="#cc3033" stroke="#cc3033" textLength="485" lengthAdjust="spacingAndGlyphs">ระยะ 6 m.</text>
<text x="5171" y="868" fill="#cc3033" stroke="#cc3033" textLength="1033" lengthAdjust="spacingAndGlyphs">(ระยะการมองเห็นทั่วไป)</text>
</g>
<!-- big watermark -->
<g opacity=".22">
<use href="#sig" transform="translate(3684,558) scale(3.25)" stroke="#fff"/>
<g class="w" fill="#fff">
<text x="344" y="2804" font-size="170" textLength="1510" lengthAdjust="spacingAndGlyphs">SPforever Optical</text>
<text x="2559" y="2804" font-size="170" textLength="1510" lengthAdjust="spacingAndGlyphs">SPforever Optical</text>
<text x="4771" y="2804" font-size="170" textLength="1510" lengthAdjust="spacingAndGlyphs">SPforever Optical</text>
<g font-size="140" font-weight="normal">
<text x="580" y="3000" textLength="1047" lengthAdjust="spacingAndGlyphs">โดย นักทัศนมาตร</text>
<text x="2792" y="3000" textLength="1047" lengthAdjust="spacingAndGlyphs">โดย นักทัศนมาตร</text>
<text x="5003" y="3000" textLength="1047" lengthAdjust="spacingAndGlyphs">โดย นักทัศนมาตร</text>
</g>
</g>
</g>
</svg>
</body></html>
